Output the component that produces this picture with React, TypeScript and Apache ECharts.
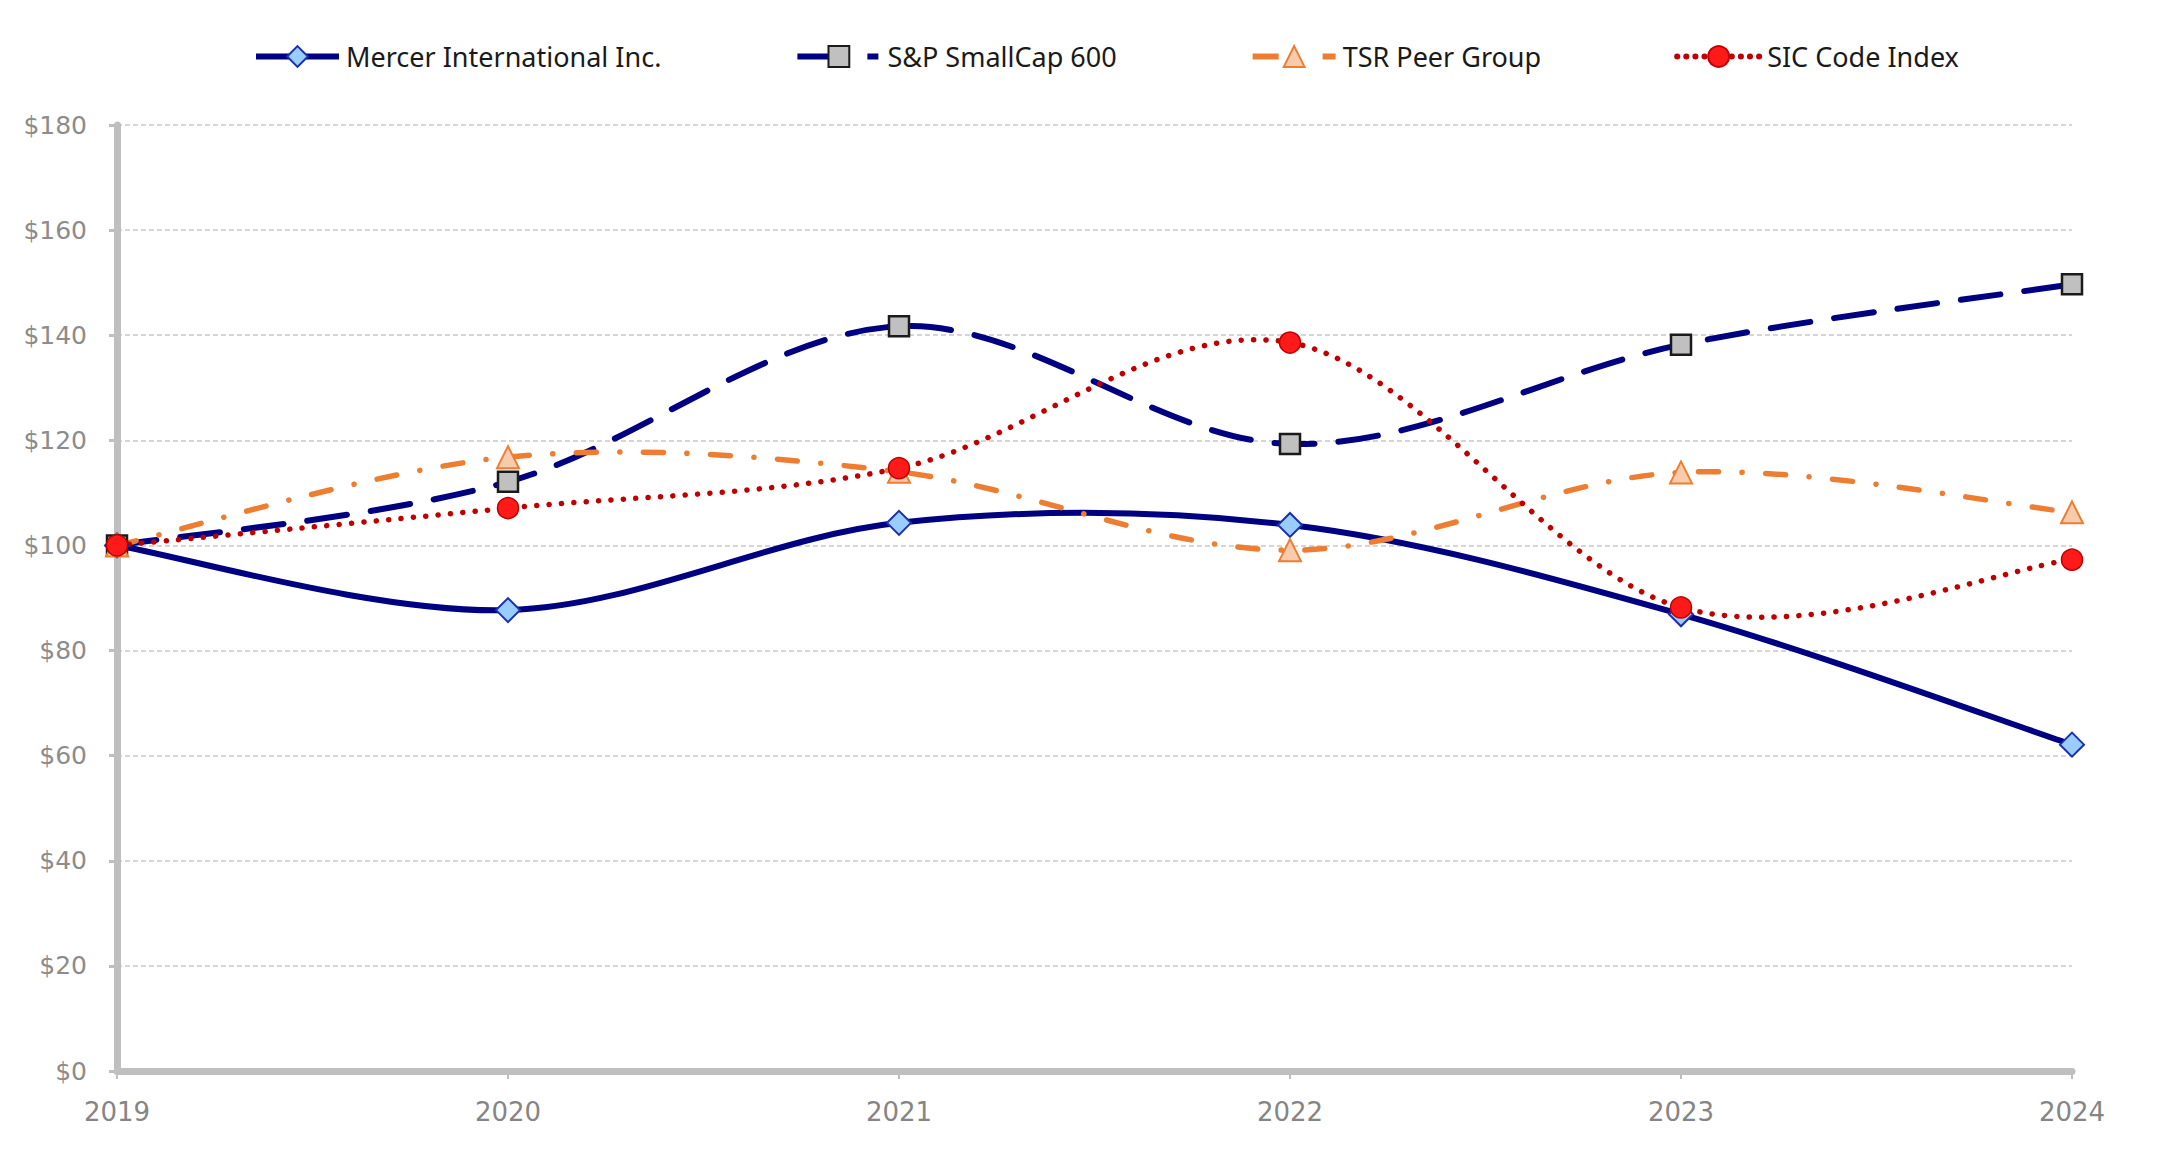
import React, { useEffect, useRef } from "react";
import * as echarts from "echarts";

const years = ["2019", "2020", "2021", "2022", "2023", "2024"];
const mercer = [100, 87.7, 104.3, 103.9, 86.9, 62.1];
const sp600 = [100, 112.1, 141.7, 119.3, 138.2, 149.7];
const tsrPeer = [100, 116.8, 114.0, 99.1, 113.9, 106.3];
const sicIndex = [100, 107.1, 114.7, 138.6, 88.2, 97.3];
const seriesNames = ["Mercer International Inc.", "S&P SmallCap 600", "TSR Peer Group", "SIC Code Index"];

type LS = { color: string; width: number; type: any; cap: string; legendType: any };

const lineStyles: LS[] = [
  { color: "#000080", width: 6, type: "solid", cap: "round", legendType: "solid" },
  { color: "#000080", width: 6, type: [40, 24], cap: "round", legendType: [38, 32, 11, 10] },
  { color: "#ED7D31", width: 5.5, type: [20, 23.5, 0.1, 23.5], cap: "round", legendType: [26, 44, 13, 10] },
  { color: "#C00000", width: 5.5, type: [0.1, 12.3], cap: "round", legendType: [0.1, 9] },
];

const symbols = [
  { symbol: "diamond", size: 24, itemStyle: { color: "#99CCFF", borderColor: "#1a2fb0", borderWidth: 2 } },
  { symbol: "rect", size: 20, itemStyle: { color: "#C0C0C0", borderColor: "#1a1a1a", borderWidth: 2.5 } },
  { symbol: "triangle", size: 22, itemStyle: { color: "#F8CBAD", borderColor: "#ED7D31", borderWidth: 2 } },
  { symbol: "circle", size: 21, itemStyle: { color: "#FF1A1A", borderColor: "#C00000", borderWidth: 1.5 } },
];

const allValues = [mercer, sp600, tsrPeer, sicIndex];

function curveSeries(values: number[], ls: LS, z: number) {
  return {
    type: "custom",
    silent: true,
    z,
    data: values.map((v, i) => [i, v]),
    encode: { x: 0, y: 1 },
    renderItem: (params: any, api: any) => {
      if (params.dataIndex !== 0) return null;
      const pts = values.map((v, i) => api.coord([i, v]));
      let d = `M${pts[0][0]},${pts[0][1]}`;
      for (let i = 0; i < pts.length - 1; i++) {
        const p0 = pts[i - 1] || pts[i];
        const p1 = pts[i];
        const p2 = pts[i + 1];
        const p3 = pts[i + 2] || pts[i + 1];
        const c1x = p1[0] + (p2[0] - p0[0]) / 6;
        const c1y = p1[1] + (p2[1] - p0[1]) / 6;
        const c2x = p2[0] - (p3[0] - p1[0]) / 6;
        const c2y = p2[1] - (p3[1] - p1[1]) / 6;
        d += ` C${c1x},${c1y} ${c2x},${c2y} ${p2[0]},${p2[1]}`;
      }
      return {
        type: "path",
        shape: { pathData: d },
        style: {
          fill: "none",
          stroke: ls.color,
          lineWidth: ls.width,
          lineDash: ls.type === "solid" ? null : ls.type,
          lineCap: ls.cap,
          lineJoin: "round",
        },
      };
    },
  };
}

export default function App() {
  const ref = useRef<HTMLDivElement>(null);
  useEffect(() => {
    if (!ref.current) return;
    const chart = echarts.init(ref.current, undefined, { renderer: "svg" });
    const axisFont = "DejaVu Sans";
    const series: any[] = [];
    allValues.forEach((vals, k) => {
      series.push(curveSeries(vals, lineStyles[k], 1 + k));
    });
    allValues.forEach((vals, k) => {
      series.push({
        name: seriesNames[k],
        type: "line",
        data: vals,
        symbol: symbols[k].symbol,
        symbolSize: symbols[k].size,
        showSymbol: true,
        lineStyle: { opacity: 0, width: 0 },
        itemStyle: symbols[k].itemStyle,
        z: 10 + k,
      });
    });
    chart.setOption({
      animation: false,
      backgroundColor: "#ffffff",
      legend: {
        top: 38,
        left: 248,
        itemGap: 133,
        itemWidth: 83,
        itemHeight: 26,
        data: seriesNames.map((name, k) => ({
          name,
          lineStyle: {
            color: lineStyles[k].color,
            width: 6,
            type: lineStyles[k].legendType,
            cap: k === 3 ? "round" : "butt",
            opacity: 1,
          },
        })),
        textStyle: { fontFamily: "Noto Sans", fontSize: 27, color: "#1a1a1a", padding: [0, 0, 0, 2] },
      },
      grid: { left: 117, right: 93, top: 125, bottom: 87, containLabel: false },
      xAxis: {
        type: "category",
        data: years,
        boundaryGap: false,
        axisLine: { show: true, lineStyle: { color: "#BFBFBF", width: 7 } },
        axisTick: { show: true, length: 8, lineStyle: { color: "#BFBFBF", width: 2 } },
        axisLabel: { fontFamily: axisFont, fontSize: 26, color: "#858585", margin: 28 },
        splitLine: { show: false },
      },
      yAxis: {
        type: "value",
        min: 0,
        max: 180,
        interval: 20,
        axisLine: { show: true, lineStyle: { color: "#BFBFBF", width: 7 } },
        axisTick: { show: true, length: 8, lineStyle: { color: "#BFBFBF", width: 3 } },
        axisLabel: {
          fontFamily: axisFont,
          fontSize: 25,
          color: "#8c8c8c",
          margin: 30,
          formatter: (v: number) => "$" + v,
        },
        splitLine: { show: true, lineStyle: { color: "#C8C8C8", width: 1.5, type: [5, 3] } },
      },
      series,
    });
    return () => chart.dispose();
  }, []);
  return (
    <div
      ref={ref}
      style={{ position: "fixed", left: 0, top: 0, width: 2165, height: 1158, background: "#fff" }}
    />
  );
}
